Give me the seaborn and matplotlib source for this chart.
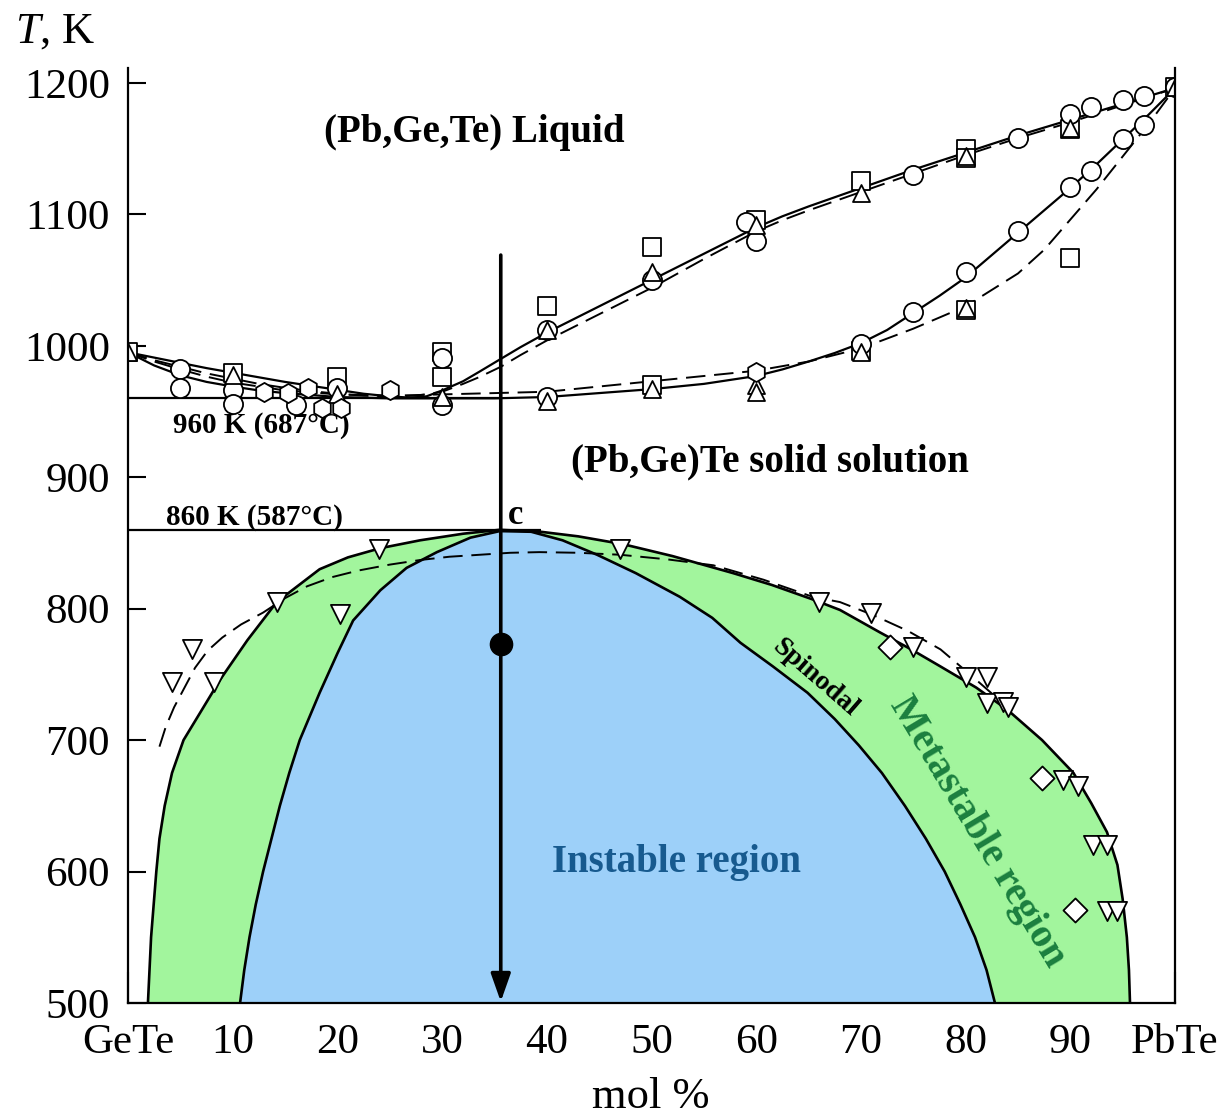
import numpy as np
import pandas as pd
import matplotlib
matplotlib.use("Agg")
import matplotlib.pyplot as plt
import seaborn as sns

# ---- phase boundaries (mol % PbTe, T in K) ----
liquidus_x = [0, 2.5, 5, 7.5, 10, 12.5, 15, 17.5, 20, 22.5, 25, 27, 28.5, 30, 32, 33.5, 35.6, 37.5, 40,
              42.5, 45, 47.5, 50, 52.5, 55, 57.5, 60, 62.5, 65, 67.5, 70, 75, 80, 85, 90, 95, 100]
liquidus_T = [995, 991, 987, 983, 979.5, 976, 972.5, 969.5, 966.5, 963.5, 961.5, 960.5, 961.5, 966, 973,
              980, 990, 999, 1010, 1020, 1030, 1040, 1050, 1060, 1070, 1080, 1090, 1098.5, 1106, 1113,
              1120, 1134, 1147, 1160, 1172, 1184, 1196]

liquidus_calc_x = [0, 2.5, 5, 7.5, 10, 12.5, 15, 17.5, 20, 22.5, 25, 27.5, 30, 32, 33.5, 35.6, 37.5, 40,
                   45, 50, 55, 60, 62.5, 65, 67.5, 70, 75, 80, 85, 90, 95, 100]
liquidus_calc_T = [995, 989, 984, 979, 975, 971, 968, 965.5, 963.5, 962, 961.5, 962, 965, 971, 976, 984,
                   993, 1004, 1024, 1044, 1066, 1087, 1095.5, 1103, 1110, 1117, 1131, 1145, 1158, 1170,
                   1183, 1196]

solidus_x = [0, 2.5, 5, 7.5, 10, 12.5, 15, 20, 25, 30, 35, 40, 45, 50, 55, 60, 62.5, 65, 67.5, 70, 72.5,
             75, 77.5, 80, 82.5, 85, 87.5, 90, 92.5, 95, 97.5, 100]
solidus_T = [995, 985, 977.5, 972.5, 969, 966, 964, 961, 960, 960, 960, 961, 964, 967, 971, 977, 982,
             988, 994.5, 1002, 1012, 1025, 1038, 1052, 1069, 1086, 1103, 1120, 1138, 1157, 1176, 1196]

solidus_calc_x = [0, 2.5, 5, 7.5, 10, 15, 20, 25, 30, 40, 50, 60, 65, 70, 75, 80, 85, 87.5, 90, 92.5, 95,
                  97.5, 100]
solidus_calc_T = [995, 988, 982, 976.5, 972, 966, 963, 962, 963, 965, 973, 981, 988, 998, 1013, 1030,
                  1055, 1073, 1096, 1119, 1144, 1169, 1196]

binodal_x = [1.9, 2.2, 2.7, 3.0, 3.5, 4.2, 5.3, 6.9, 8.8, 11.4, 14.2, 18.3, 21, 24.1, 27.9, 32, 35.5,
             39.4, 43, 47.3, 52, 57.8, 61.5, 65.4, 68, 71.8, 74.8, 77.6, 81, 84, 87.3, 90.3, 92, 93.5,
             94.5, 95, 95.4, 95.6, 95.7]
binodal_T = [500, 550, 600, 625, 650, 675, 700, 721, 746, 776, 805, 830, 839, 846, 852, 857, 860,
             858.5, 855, 849, 840, 827, 818, 807, 799, 782, 769, 756, 740, 723, 700, 675, 652, 630,
             605, 579, 550, 525, 500]

spinodal_x = [10.7, 11.1, 11.6, 12.2, 12.9, 13.7, 14.5, 15.4, 16.4, 18.3, 20, 21.5, 24.1, 26.6, 29.5,
              32.7, 35.5, 38.5, 41.5, 44.8, 48.5, 52.7, 55.8, 58.5, 61.6, 64.9, 67.5, 69.8, 72, 74.2,
              76.2, 78, 79.5, 80.9, 82, 82.8]
spinodal_T = [500, 525, 550, 575, 600, 625, 650, 675, 700, 736, 766, 791, 814, 831, 843, 854, 859,
              858.5, 852, 841, 827, 809, 793, 774, 756, 736, 716, 696, 675, 650, 625, 600, 575, 550,
              525, 500]

binodal_calc_x = [3.0, 3.6, 4.4, 5.4, 6.4, 7.6, 9, 10.8, 12.9, 15, 17.1, 19.5, 22, 25, 27.9, 30.7, 33.6,
                  36.5, 39.3, 43, 47, 51.5, 55.9, 60.7, 65.4, 68, 71.2, 74.5, 77.6, 80.7, 84]
binodal_calc_T = [695, 710, 725, 740, 755, 768, 778, 788, 797, 808, 817, 824, 829, 833.5, 837, 839.5,
                  841, 842.5, 843, 842.5, 841, 837.5, 833, 822, 809, 805, 795, 783, 769, 748, 725]

# ---- experimental points ----
square_x = [0, 10, 20, 30, 30, 40, 50, 50, 60, 70, 70, 80, 80, 80, 90, 90, 100]
square_T = [995, 979, 976, 995, 976, 1030, 1075, 970, 1096, 1125, 996, 1150, 1143, 1027, 1165, 1067, 1197]

circle_x = [5, 5, 10, 10, 16, 20, 30, 30, 40, 40, 50, 59, 60, 70, 75, 75, 80, 85, 85, 90, 90,
            92, 92, 95, 95, 97, 97, 100]
circle_T = [982, 968, 966, 956, 955, 968, 991, 955, 1012, 961, 1050, 1094, 1080, 1001, 1130, 1026, 1056,
            1158, 1087, 1176, 1121, 1182, 1133, 1187, 1157, 1190, 1168, 1197]

tri_up_x = [0, 10, 20, 30, 40, 40, 50, 50, 60, 60, 60, 70, 70, 80, 80, 90, 100]
tri_up_T = [995, 978, 963, 961, 1012, 958, 1056, 967, 1092, 970, 965, 1116, 995, 1144, 1029, 1166, 1197]

hexagon_x = [13, 15.3, 17.2, 18.5, 20.3, 25, 60]
hexagon_T = [965, 964, 968, 953, 953, 966, 980]

tri_down_x = [4.2, 6.1, 8.2, 14.2, 20.2, 24, 47, 66, 71, 75, 80, 82, 82, 83.6, 84, 89.3, 90.7, 92.2, 93.5,
              93.5, 94.5]
tri_down_T = [744, 769, 744, 805, 796, 845, 845, 805, 797, 771, 748, 748, 728, 729, 725, 670, 665, 620, 620,
              570, 570]

diamond_x = [72.8, 87.3, 90.4]
diamond_T = [771, 671, 571]

# ---- annotations ----
T_eutectic = 960
T_critical = 860
x_quench = 35.6
T_quench_start = 1069
T_anneal = 773
x_ticks = [0, 10, 20, 30, 40, 50, 60, 70, 80, 90, 100]
x_ticklabels = ["GeTe", "10", "20", "30", "40", "50", "60", "70", "80", "90", "PbTe"]
y_ticks = [500, 600, 700, 800, 900, 1000, 1100, 1200]

GREEN = "#a2f59d"
BLUE = "#9dd0f9"

sns.set_style("ticks")
plt.rcParams["font.family"] = ["Liberation Serif", "DejaVu Serif"]
plt.rcParams["mathtext.fontset"] = "custom"
plt.rcParams["mathtext.rm"] = "Liberation Serif"
plt.rcParams["mathtext.it"] = "Liberation Serif:italic"
for key in ("text.color", "axes.labelcolor", "xtick.color", "ytick.color", "axes.edgecolor"):
    plt.rcParams[key] = "black"

fig = plt.figure(figsize=(12.3, 11.2), dpi=100)
ax = fig.add_axes([0.1041, 0.1045, 0.8512, 0.8344])

# miscibility gap regions
ax.fill_between(binodal_x, 500, binodal_T, color=GREEN, lw=0, zorder=1)
ax.fill_between(spinodal_x, 500, spinodal_T, color=BLUE, lw=0, zorder=2)

solid_kw = dict(ax=ax, color="black", estimator=None, legend=False)
sns.lineplot(x=binodal_x, y=binodal_T, lw=1.9, zorder=4, **solid_kw)
sns.lineplot(x=spinodal_x, y=spinodal_T, lw=1.9, zorder=4, **solid_kw)
sns.lineplot(x=liquidus_x, y=liquidus_T, lw=1.6, zorder=4, **solid_kw)
sns.lineplot(x=solidus_x, y=solidus_T, lw=1.6, zorder=4, **solid_kw)

for cx, cy in [(liquidus_calc_x, liquidus_calc_T), (solidus_calc_x, solidus_calc_T),
               (binodal_calc_x, binodal_calc_T)]:
    ln = sns.lineplot(x=cx, y=cy, lw=1.4, zorder=4, **solid_kw)
    ln.lines[-1].set_dashes([10, 4.5])

# reference isotherms
ax.hlines(T_eutectic, 0, x_quench, color="black", lw=1.6, zorder=3)
ax.hlines(T_critical, 0, 39.4, color="black", lw=1.6, zorder=3)

# experimental points
mk = dict(ax=ax, color="white", edgecolor="black", linewidth=1.3, zorder=6, legend=False)
sns.scatterplot(x=square_x, y=square_T, marker="s", s=150, **mk)
sns.scatterplot(x=circle_x, y=circle_T, marker="o", s=190, **mk)
sns.scatterplot(x=tri_up_x, y=tri_up_T, marker="^", s=150, **mk)
sns.scatterplot(x=hexagon_x, y=hexagon_T, marker="h", s=190, **mk)
sns.scatterplot(x=tri_down_x, y=tri_down_T, marker="v", s=190, **mk)
sns.scatterplot(x=diamond_x, y=diamond_T, marker="D", s=150, **mk)

# quench path
ax.annotate("", xy=(x_quench, 501), xytext=(x_quench, T_quench_start),
            arrowprops=dict(arrowstyle="-|>,head_length=1.7,head_width=0.6", color="black",
                            lw=2.6, shrinkA=0, shrinkB=0), zorder=7)
ax.plot([x_quench], [T_anneal], "o", color="black", ms=16, zorder=8)

# labels
ax.text(33.1, 1162, "(Pb,Ge,Te) Liquid", fontsize=28, fontweight="bold", ha="center", va="center")
ax.text(61.3, 911.5, "(Pb,Ge)Te solid solution", fontsize=28, fontweight="bold", ha="center", va="center")
ax.text(12.7, 939.5, "960 K (687°C)", fontsize=21, fontweight="bold", ha="center", va="center")
ax.text(12.1, 869, "860 K (587°C)", fontsize=21, fontweight="bold", ha="center", va="center")
ax.text(37.0, 871, "c", fontsize=25, fontweight="bold", ha="center", va="center")
ax.text(65.6, 747, "Spinodal", fontsize=20, fontweight="bold", rotation=-41, ha="center", va="center",
        rotation_mode="anchor")
ax.text(81.1, 630, "Metastable region", fontsize=29, fontweight="bold", color="#1b7f3f", rotation=-59,
        ha="center", va="center", rotation_mode="anchor", zorder=9)
ax.text(52.4, 607, "Instable region", fontsize=28, fontweight="bold", color="#175a8f",
        ha="center", va="center")

# axes
ax.set_xlim(0, 100)
ax.set_ylim(500, 1211)
ax.set_xticks(x_ticks)
ax.set_xticklabels(x_ticklabels)
ax.set_yticks(y_ticks)
ax.tick_params(axis="y", direction="in", length=13, width=1.5, labelsize=31, pad=13)
ax.tick_params(axis="x", direction="in", length=22, width=1.5, labelsize=31, pad=15)
ax.spines["top"].set_visible(False)
for side in ("left", "bottom", "right"):
    ax.spines[side].set_linewidth(1.6)
    ax.spines[side].set_zorder(10)

fig.text(15 / 1230, 1 - 32 / 1120, r"$T$, K", fontsize=32, ha="left", va="center")
fig.text(651 / 1230, 1 - 1097 / 1120, "mol %", fontsize=32, ha="center", va="center")

fig.savefig("out.png", dpi=100, facecolor="white")
